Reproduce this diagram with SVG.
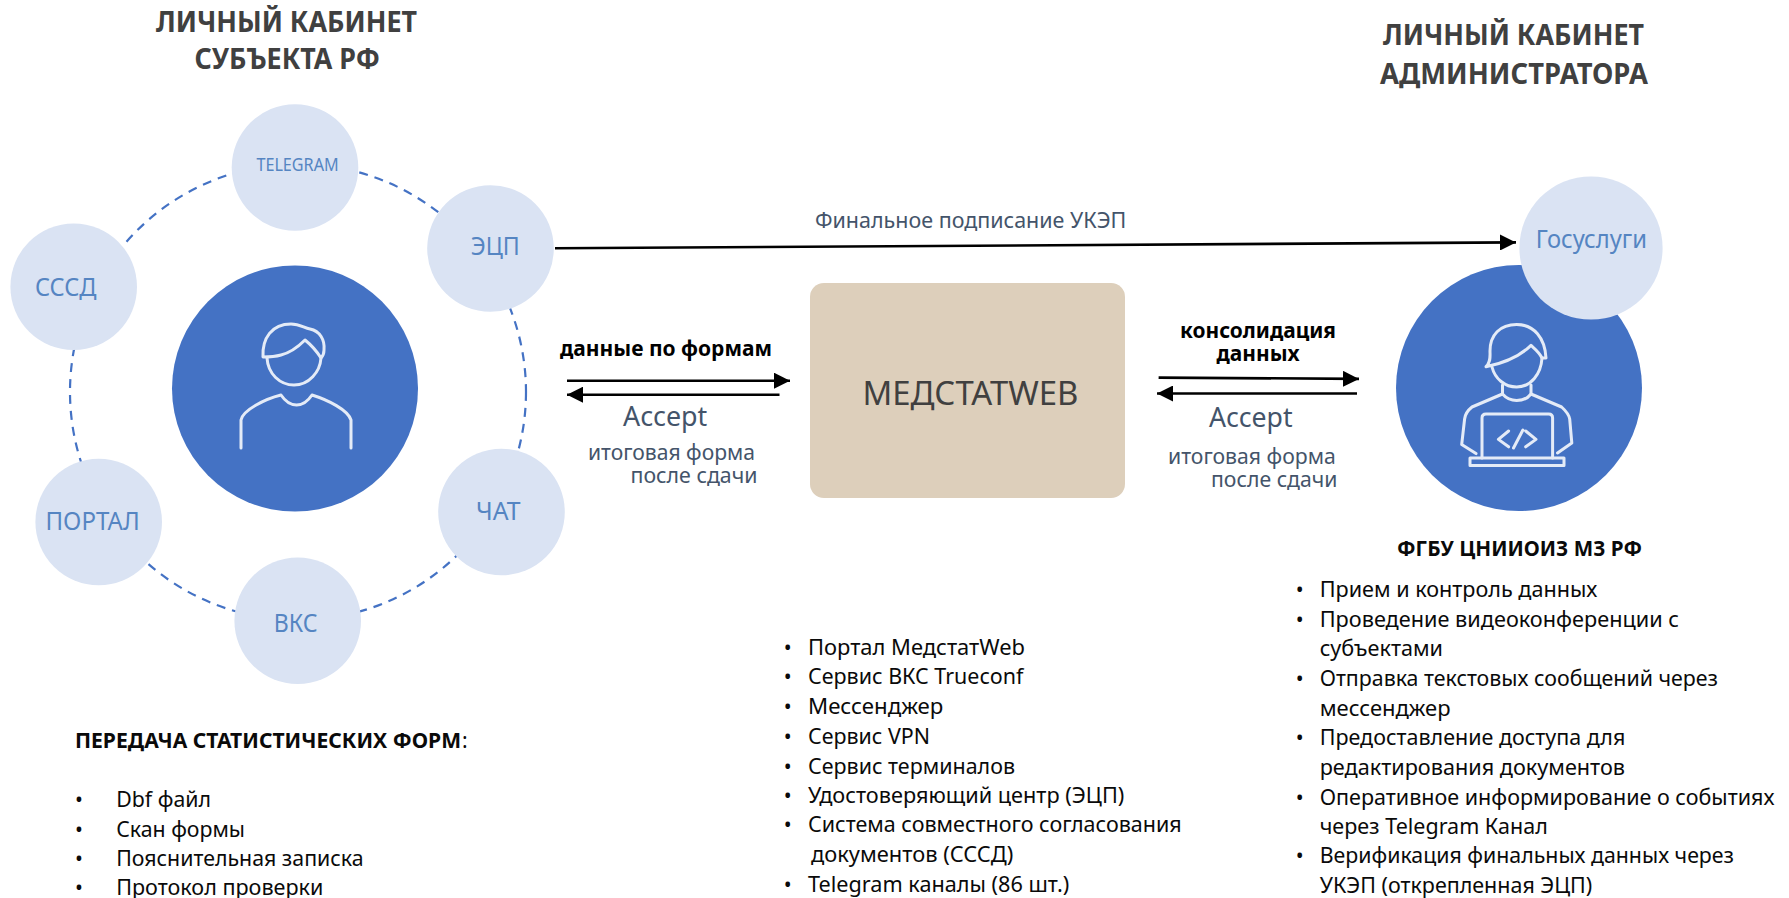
<svg xmlns="http://www.w3.org/2000/svg" width="1789" height="898" viewBox="0 0 1789 898">
<defs>
<style>
text{font-family:"Noto Sans","Open Sans","Liberation Sans",sans-serif}
.title{font-size:28px;font-weight:700;fill:#404040}
.node{font-size:25px;fill:#5585C2}
.sm{font-size:18px}
.big{fill:#4472C4}
.sat{fill:#DAE3F3}
.body{font-size:21px;fill:#0a0a0a}
.b{font-weight:700}
.cap{font-size:21px;fill:#44546A}
.acc{font-size:27px;fill:#44546A}
.lb{font-size:21px;font-weight:700;fill:#000}
.bul{text-anchor:middle}
.icon{fill:none;stroke:#E4EBF7;stroke-width:3;stroke-linecap:round;stroke-linejoin:round}
.ar{fill:none;stroke:#000;stroke-width:2.6;marker-end:url(#h)}
.ring{fill:none;stroke:#4472C4;stroke-width:2.2;stroke-dasharray:9 7}
</style>
<marker id="h" markerUnits="userSpaceOnUse" markerWidth="17" markerHeight="16" refX="16" refY="8" orient="auto"><path d="M0 0L16 8L0 16Z" fill="#000"/></marker>
</defs>
<rect width="1789" height="898" fill="#fff"/>
<g id="titles">
<text class="title" x="156" y="31.500" textLength="261" lengthAdjust="spacingAndGlyphs">ЛИЧНЫЙ КАБИНЕТ</text>
<text class="title" x="194.400" y="69" textLength="185.600" lengthAdjust="spacingAndGlyphs">СУБЪЕКТА РФ</text>
<text class="title" x="1383" y="44.600" textLength="261" lengthAdjust="spacingAndGlyphs">ЛИЧНЫЙ КАБИНЕТ</text>
<text class="title" x="1380" y="84" textLength="268" lengthAdjust="spacingAndGlyphs">АДМИНИСТРАТОРА</text>
</g>
<g id="connectors">
<circle class="ring" cx="298" cy="392" r="228"/>
<path class="ar" d="M555 248.300L1516 242.400"/>
<path class="ar" d="M567 380.700H790"/>
<path class="ar" d="M779.500 394.700H567"/>
<path class="ar" d="M1158.600 377.600L1359 378.900"/>
<path class="ar" d="M1357 393.500H1157"/>
</g>
<g id="node-telegram"><circle class="sat" cx="295" cy="167.500" r="63.300"/><text class="node sm" x="256.400" y="171" textLength="82.300" lengthAdjust="spacingAndGlyphs">TELEGRAM</text></g>
<g id="node-ecp"><circle class="sat" cx="490.500" cy="248.500" r="63.300"/><text class="node" x="470.700" y="255" textLength="49" lengthAdjust="spacingAndGlyphs">ЭЦП</text></g>
<g id="node-sssd"><circle class="sat" cx="73.700" cy="286.700" r="63.300"/><text class="node" x="35" y="296" textLength="61.400" lengthAdjust="spacingAndGlyphs">СССД</text></g>
<g id="node-portal"><circle class="sat" cx="98.700" cy="522" r="63.300"/><text class="node" x="45.500" y="530" textLength="94.200" lengthAdjust="spacingAndGlyphs">ПОРТАЛ</text></g>
<g id="node-vks"><circle class="sat" cx="297.700" cy="620.700" r="63.300"/><text class="node" x="273.800" y="631.700" textLength="43.800" lengthAdjust="spacingAndGlyphs">ВКС</text></g>
<g id="node-chat"><circle class="sat" cx="501.500" cy="512" r="63.300"/><text class="node" x="476" y="519.700" textLength="44.500" lengthAdjust="spacingAndGlyphs">ЧАТ</text></g>
<g id="node-subject">
<circle class="big" cx="295" cy="388.500" r="123"/>
<path class="icon" d="M263 357C262 338 272 324 291 324C300 324 304 328 310 329C320 331 325 340 324 350C324 354 323 356 321 358C316 350 310 344 305 340C297 348 289 353 281 355C274 357 268 357 263 357Z"/>
<path class="icon" d="M267 358C268 374 280 385 294 385C309 385 320 372 321 358"/>
<path class="icon" d="M241 448V420C243 410 265 399 281 395C285 401 290 405 296.600 405C303 405 308 401 312 395C328 400 348 410 351 420V448"/>
</g>
<g id="node-admin">
<circle class="big" cx="1519" cy="388" r="123"/>
<path class="icon" d="M1486 366.700C1491 362 1490 356 1490 351C1490 335 1500 324.500 1516.700 324.500C1534 324.500 1545 338 1546 358L1542 358C1539 352 1535 349 1531 345.400C1520 356 1505 363 1486 366.700Z"/>
<path class="icon" d="M1492 367C1495 379 1505 387 1516.700 387C1531 387 1541 374 1542 358"/>
<path class="icon" d="M1502.500 385V394C1506 398 1511 400.500 1516.700 400.500C1522 400.500 1528 398 1531 394V385"/>
<path class="icon" d="M1502.500 394L1472 407C1467 411 1465 415 1464.600 419L1461.700 444.500L1476 453.600M1531 394L1561.600 407C1566 411 1569 415 1569.700 419L1571.800 443L1557.500 453"/>
<path class="icon" d="M1482 458V418Q1482 414 1486 414H1548.600Q1552.600 414 1552.600 418V458"/>
<path class="icon" d="M1470 458H1564V465.500H1470Z"/>
<path class="icon" d="M1508.600 431L1498.400 439.400L1508.600 446.800M1522.900 430L1513.500 448M1525.700 431L1536 439.400L1525.700 446.800"/>
</g>
<g id="node-gosuslugi"><circle class="sat" cx="1591" cy="248" r="71.600"/><text class="node" x="1535.800" y="248.400" textLength="111.200" lengthAdjust="spacingAndGlyphs">Госуслуги</text></g>
<g id="node-medstat"><rect x="810" y="283" width="315" height="215" rx="14" fill="#DDCFBB"/><text x="862.400" y="405" font-size="33" fill="#404040" textLength="216" lengthAdjust="spacingAndGlyphs">МЕДСТАТWEB</text></g>
<g id="labels">
<text class="cap" x="815" y="228.300" textLength="311.300" lengthAdjust="spacingAndGlyphs">Финальное подписание УКЭП</text>
<text class="lb" x="560" y="356" textLength="212" lengthAdjust="spacingAndGlyphs">данные по формам</text>
<text class="acc" x="623" y="425.700" textLength="84.300" lengthAdjust="spacingAndGlyphs">Accept</text>
<text class="cap" x="588" y="460" textLength="167" lengthAdjust="spacingAndGlyphs">итоговая форма</text>
<text class="cap" x="630.500" y="482.700" textLength="127" lengthAdjust="spacingAndGlyphs">после сдачи</text>
<text class="lb" x="1180" y="338" textLength="156" lengthAdjust="spacingAndGlyphs">консолидация</text>
<text class="lb" x="1216.500" y="361" textLength="83.100" lengthAdjust="spacingAndGlyphs">данных</text>
<text class="acc" x="1209" y="426.600" textLength="83.600" lengthAdjust="spacingAndGlyphs">Accept</text>
<text class="cap" x="1168" y="463.700" textLength="167.800" lengthAdjust="spacingAndGlyphs">итоговая форма</text>
<text class="cap" x="1211" y="487.400" textLength="126.500" lengthAdjust="spacingAndGlyphs">после сдачи</text>
</g>
<g id="list-forms">
<text class="body"><tspan class="b" x="75" y="747.800" textLength="386" lengthAdjust="spacingAndGlyphs">ПЕРЕДАЧА СТАТИСТИЧЕСКИХ ФОРМ</tspan><tspan x="462" y="747.800">:</tspan></text>
<text class="body bul" x="79" y="806.700">•</text><text class="body" x="116.200" y="806.700" textLength="94.800" lengthAdjust="spacingAndGlyphs">Dbf файл</text>
<text class="body bul" x="79" y="836.700">•</text><text class="body" x="116.200" y="836.700" textLength="128.800" lengthAdjust="spacingAndGlyphs">Скан формы</text>
<text class="body bul" x="79" y="866">•</text><text class="body" x="116.200" y="866" textLength="247.400" lengthAdjust="spacingAndGlyphs">Пояснительная записка</text>
<text class="body bul" x="79" y="895">•</text><text class="body" x="116.200" y="895" textLength="207.200" lengthAdjust="spacingAndGlyphs">Протокол проверки</text>
</g>
<g id="list-services">
<text class="body bul" x="787.700" y="655">•</text><text class="body" x="808" y="655" textLength="217" lengthAdjust="spacingAndGlyphs">Портал МедстатWeb</text>
<text class="body bul" x="787.700" y="684">•</text><text class="body" x="808" y="684" textLength="215.300" lengthAdjust="spacingAndGlyphs">Сервис ВКС Trueconf</text>
<text class="body bul" x="787.700" y="714">•</text><text class="body" x="808" y="714" textLength="135.300" lengthAdjust="spacingAndGlyphs">Мессенджер</text>
<text class="body bul" x="787.700" y="744">•</text><text class="body" x="808" y="744" textLength="122" lengthAdjust="spacingAndGlyphs">Сервис VPN</text>
<text class="body bul" x="787.700" y="774">•</text><text class="body" x="808" y="774" textLength="207" lengthAdjust="spacingAndGlyphs">Сервис терминалов</text>
<text class="body bul" x="787.700" y="803">•</text><text class="body" x="808" y="803" textLength="316.300" lengthAdjust="spacingAndGlyphs">Удостоверяющий центр (ЭЦП)</text>
<text class="body bul" x="787.700" y="831.700">•</text><text class="body" x="808" y="831.700" textLength="373.700" lengthAdjust="spacingAndGlyphs">Система совместного согласования</text>
<text class="body" x="811" y="862" textLength="202.300" lengthAdjust="spacingAndGlyphs">документов (СССД)</text>
<text class="body bul" x="787.700" y="891.700">•</text><text class="body" x="808" y="891.700" textLength="261.300" lengthAdjust="spacingAndGlyphs">Telegram каналы (86 шт.)</text>
</g>
<g id="list-admin">
<text class="body b" x="1397" y="556" textLength="245" lengthAdjust="spacingAndGlyphs">ФГБУ ЦНИИОИЗ МЗ РФ</text>
<text class="body bul" x="1299.800" y="596.700">•</text><text class="body" x="1319.700" y="596.700" textLength="277.700" lengthAdjust="spacingAndGlyphs">Прием и контроль данных</text>
<text class="body bul" x="1299.800" y="626.700">•</text><text class="body" x="1319.700" y="626.700" textLength="359.300" lengthAdjust="spacingAndGlyphs">Проведение видеоконференции с</text>
<text class="body" x="1319.700" y="656" textLength="123.300" lengthAdjust="spacingAndGlyphs">субъектами</text>
<text class="body bul" x="1299.800" y="685.700">•</text><text class="body" x="1319.700" y="685.700" textLength="398.300" lengthAdjust="spacingAndGlyphs">Отправка текстовых сообщений через</text>
<text class="body" x="1319.700" y="715.700" textLength="130.900" lengthAdjust="spacingAndGlyphs">мессенджер</text>
<text class="body bul" x="1299.800" y="745">•</text><text class="body" x="1319.700" y="745" textLength="305.700" lengthAdjust="spacingAndGlyphs">Предоставление доступа для</text>
<text class="body" x="1319.700" y="775" textLength="305.300" lengthAdjust="spacingAndGlyphs">редактирования документов</text>
<text class="body bul" x="1299.800" y="805">•</text><text class="body" x="1319.700" y="805" textLength="454.800" lengthAdjust="spacingAndGlyphs">Оперативное информирование о событиях</text>
<text class="body" x="1319.700" y="834" textLength="228.100" lengthAdjust="spacingAndGlyphs">через Telegram Канал</text>
<text class="body bul" x="1299.800" y="863.300">•</text><text class="body" x="1319.700" y="863.300" textLength="414.300" lengthAdjust="spacingAndGlyphs">Верификация финальных данных через</text>
<text class="body" x="1319.700" y="892.700" textLength="272.600" lengthAdjust="spacingAndGlyphs">УКЭП (открепленная ЭЦП)</text>
</g>
</svg>
